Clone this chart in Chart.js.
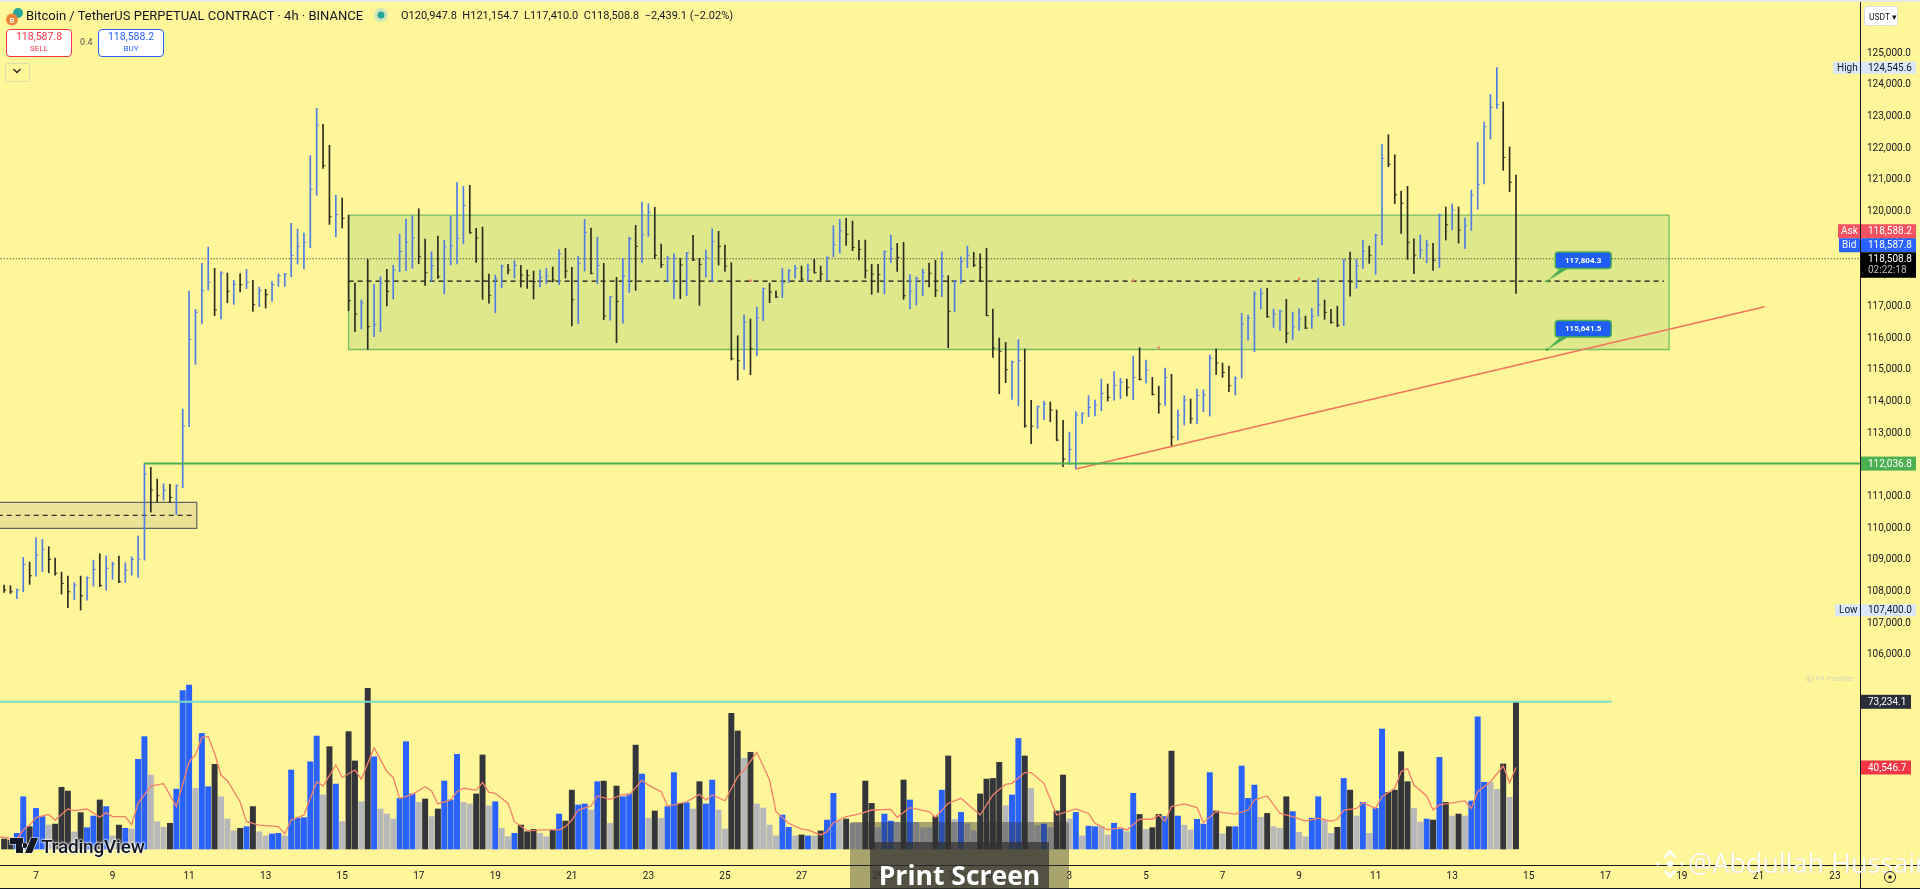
<!DOCTYPE html>
<html>
<head>
<meta charset="utf-8">
<title>BTCUSDT 4h</title>
<script src="https://cdn.jsdelivr.net/npm/chart.js@4/dist/chart.umd.js"></script>
<style>
    html, body { margin: 0; padding: 0; background: #fff599; overflow: hidden; }
    #wrap { position: relative; width: 1920px; height: 889px; font-family: Roboto, sans-serif; color: #131722; }
    #wrap > div, #wrap > svg { position: absolute; white-space: nowrap; }
    canvas { display: block; }
    .trade { width: 64px; height: 26px; background: #fff; border-radius: 4px; text-align: center; font-size: 10.5px; line-height: 13px; padding-top: 0; }
    .trade span { display: block; font-size: 8px; line-height: 11px; }
</style>
</head>
<body>
<div id="wrap">
    <canvas id="chart" width="1920" height="889"></canvas>

    <div style="left:0;top:0;width:1920px;height:2px;background:#e9e9e6"></div>
    <svg style="left:5px;top:7px" width="20" height="20">
        <circle cx="13" cy="6" r="5" fill="#26a69a"/>
        <circle cx="7" cy="12.5" r="6" fill="#e8873a"/>
        <text x="4.5" y="15.5" font-size="8" font-weight="700" fill="#fff3d8" font-family="Roboto">B</text>
    </svg>
    <div style="left:26px;top:8px;font-size:13px;line-height:16px;">Bitcoin / TetherUS PERPETUAL CONTRACT · 4h · BINANCE</div>
    <svg style="left:373px;top:7px" width="16" height="16">
        <circle cx="8" cy="8" r="7" fill="#cfe9b8"/>
        <circle cx="8" cy="8" r="3.5" fill="#26a69a"/>
    </svg>
    <div style="left:401px;top:8px;font-size:11px;line-height:16px;">O120,947.8&nbsp; H121,154.7&nbsp; L117,410.0&nbsp; C118,508.8&nbsp; −2,439.1 (−2.02%)</div>

    <div class="trade" style="left:6px;top:29px;border:1.3px solid #f23645;color:#f23645">118,587.8<span>SELL</span></div>
    <div style="left:80px;top:37px;font-size:9px;color:#555">0.4</div>
    <div class="trade" style="left:98px;top:29px;border:1.3px solid #2962ff;color:#2962ff">118,588.2<span>BUY</span></div>
    <div style="left:5px;top:63px;width:23px;height:17px;border:1px solid #e0dcae;border-radius:2px"></div>
    <svg style="left:12px;top:67px" width="10" height="8"><path d="M1.5 2 L5 5.5 L8.5 2" fill="none" stroke="#222" stroke-width="1.3"/></svg>

    <div style="left:1864px;top:6px;width:34px;height:20px;background:#fff;border:1px solid #ddd;border-radius:3px;font-size:8.5px;line-height:20px;padding-left:4px;box-sizing:border-box">USDT ▾</div>

    <div style="left:1806px;top:674px;font-size:7.5px;color:#c9c9b4">Ⓒ <span style="color:#d5d5bd">P4 Provider</span></div>

    <svg style="left:9px;top:836px" width="30" height="20">
        <path d="M1 2 H14 V17 H7 V8 H1 Z M16 17 L22 2 H29 L23 17 Z M15.5 6.5 a2.8 2.8 0 1 0 .01 0 Z" fill="#131722" stroke="#fff" stroke-width="1.2" paint-order="stroke"/>
    </svg>
    <div style="left:41px;top:835px;font-size:19px;line-height:24px;font-weight:500;letter-spacing:-0.2px;text-shadow:0 0 2px #fff,0 0 2px #fff,0 0 3px #fff">TradingView</div>

    <div style="left:850px;top:822px;width:219px;height:67px;background:rgba(50,50,50,0.42);border-radius:3px 3px 0 0"></div>
    <div style="left:870px;top:842px;width:179px;height:47px;background:rgba(50,50,50,0.72);text-align:center;color:#fff;font-family:'Open Sans',sans-serif;font-weight:700;font-size:26.5px;line-height:66px">Print Screen</div>

    <svg style="left:1656px;top:850px" width="28" height="28" opacity="0.95">
        <g fill="#fff" transform="rotate(45 14 14)">
            <rect x="11" y="11" width="6" height="6"/><rect x="4" y="4" width="9" height="3"/><rect x="4" y="4" width="3" height="9"/>
            <rect x="15" y="21" width="9" height="3"/><rect x="21" y="15" width="3" height="9"/>
            <rect x="4" y="21" width="3" height="3"/><rect x="21" y="4" width="3" height="3"/>
        </g>
    </svg>
    <div style="left:1688px;top:845px;font-family:'Open Sans',sans-serif;font-size:27px;line-height:36px;color:#fff;text-shadow:0 0 1px rgba(120,110,60,0.35)">@Abdullah Hussain</div>

    <svg style="left:1882px;top:869px" width="16" height="16"><circle cx="8" cy="8" r="5.5" fill="none" stroke="#222" stroke-width="1"/><circle cx="8" cy="8" r="1.8" fill="#222"/></svg>
</div>

<script>
// Bars run every 4h, bar 0 is the candle on the "7" label
const firstBar = -5;

const highs = [
    108198,108177,108072,109073,108925,109694,109641,109410,109051,108609,
    108483,108272,108483,108462,108988,109188,109125,108925,109115,108904,
    109094,109747,112043,111916,111548,111400,111379,111358,113760,117488,
    116909,118363,118879,118205,118100,118057,117826,118036,118173,117826,
    117615,117541,117784,118026,118047,119627,119448,119321,121765,123261,
    122755,122092,120512,120427,119890,117741,117204,118489,117699,117942,
    118173,118300,119290,119764,119869,120090,119132,118731,119227,119090,
    119869,120922,120796,120828,119469,119511,118026,117994,118310,118331,
    118447,118300,118152,118121,118152,118205,118247,118795,118837,118236,
    118584,119753,119479,119195,118363,117310,117920,118521,119195,119564,
    120301,120248,120132,118974,118584,118668,118521,118710,119248,118521,
    118784,119458,119374,118942,118384,116077,116730,116604,116983,117583,
    117741,117499,118205,118173,118300,118278,118342,118489,118278,118573,
    119553,119753,119785,119700,119089,119100,118331,118331,118752,119258,
    118995,119026,118005,117931,118184,118373,118458,118731,117973,117815,
    118573,118910,118710,118668,118837,116920,116003,115866,115277,115951,
    115656,114034,113855,114002,113981,113728,113402,113033,113676,113644,
    114181,114044,114708,114550,114940,114729,114708,115435,115698,115308,
    114760,114486,115055,114856,113737,114180,114076,114392,114369,115466,
    115656,115213,115118,114780,116784,116739,117466,117561,117574,116920,
    116888,117226,116825,116929,116698,116942,117890,117204,116910,117014,
    118490,118721,118490,119091,118910,119280,122124,122427,121795,120648,
    120797,119141,119258,119091,118996,119922,120143,120238,120143,119805,
    120680,122187,122829,123704,124545.6,123461,122039,121154.7
];
const lows = [
    107967,107935,107767,107987,108219,108483,108620,108588,108514,107914,
    107482,107735,107408,107724,108167,108146,108040,108377,108272,108283,
    108514,108441,108988,110505,110810,110874,110800,110431,111274,113201,
    115171,116446,117520,116709,116604,117120,117067,117457,117562,116846,
    116994,116951,117162,117636,117636,117942,118342,118184,118858,120512,
    121365,119595,119205,119479,116867,116204,116288,115645,116046,116204,
    117015,117236,118100,118131,118205,118352,117668,117784,117889,117404,
    118310,118342,118984,119311,118394,117225,117109,116804,117594,118026,
    117899,117615,117573,117236,117615,117720,117773,117689,117899,116383,
    116456,118121,118026,117720,116583,116572,115856,116477,117446,117510,
    118384,119216,118510,118226,117783,117246,117246,117341,118447,117036,
    117931,117783,118310,118110,115308,114676,115013,114845,115435,116551,
    117120,117278,117278,117762,117899,117836,117783,118057,117836,117836,
    118573,118689,118932,118763,118468,117899,117383,117446,117394,118384,
    118110,117225,116920,117046,117341,117615,117309,117309,115698,116835,
    117731,118226,118257,117794,116709,115392,114244,114592,114065,113865,
    113180,112664,113149,113423,113360,112759,111938,112011,111864,113307,
    113518,113539,113707,114013,114044,114086,114171,114055,114676,114581,
    114202,113624,113876,112568,112780,113254,113308,113295,113674,113538,
    114856,114761,114306,114202,114739,115940,115570,116920,116657,116341,
    116247,115855,115962,116247,116297,116310,116698,116594,116468,116360,
    116392,117330,117574,118206,118364,118016,118942,121416,120247,119312,
    118490,118035,118522,118383,118143,118225,119100,119416,119005,118825,
    119407,120070,120870,122292,123249,121303,120626,117410
];
const closes = [
    108040,107987,108040,108851,108493,109146,109325,109009,108577,108251,
    107987,108198,107861,108430,108693,108188,108725,108862,108304,108672,
    109009,109020,111706,111200,111021,111200,110968,111348,113223,115961,
    116814,117499,117762,116888,118057,117478,117699,117689,117762,117057,
    117499,117373,117689,117973,118026,118616,118900,119026,120701,122734,
    121449,119837,119901,119785,117183,116762,117120,116362,116425,117741,
    117478,118152,118742,119026,119163,118584,118068,118289,117942,118879,
    118921,119153,120196,119332,119163,117826,117352,117868,118278,118152,
    118300,117994,117973,117783,117920,117973,117836,118668,118121,117215,
    118363,119342,118047,118300,116699,117310,117162,117952,119142,118900,
    119269,119974,118616,118321,118521,118530,118310,118700,118468,118331,
    118542,119058,118900,118278,115350,115287,116498,115666,116635,117573,
    117457,117299,117741,118131,118205,117868,118152,118068,118026,118552,
    118953,119395,119279,118868,118805,118131,118026,118010,118742,118826,
    118552,117341,117489,117889,118078,118050,117510,117952,116846,117794,
    118426,118616,118310,118236,116709,115687,115582,115003,115245,115287,
    113233,113220,113834,113918,113728,112780,112180,112485,113570,113623,
    113812,113886,114255,114128,114508,114602,114444,114760,114697,114992,
    114223,113918,114760,112875,113570,114044,113453,114190,114210,115362,
    115213,114919,114496,114730,116446,116635,117394,117410,116676,116762,
    116834,116152,116360,116613,116319,116689,117046,116815,116499,116405,
    118468,117773,118288,118743,118617,119249,121682,121492,120531,120260,
    119027,118626,118784,118933,118459,119890,119583,120048,119416,119552,
    120522,120860,122680,123293,123375,121713,120923,118508.8
];
const volumes = [
    4970,4500,7800,26000,11100,20200,16100,11900,12400,30700,
    28800,8500,18100,10600,16400,24400,21100,6500,11900,10300,
    9900,44600,55900,36800,13600,10800,12800,29800,78800,81600,
    30200,57500,31000,42100,26000,14900,9000,10300,11100,21100,
    8600,6500,7500,7800,6500,39300,15300,15600,43400,56200,
    26900,50900,32300,13600,58400,43800,23500,79900,45900,19900,
    17400,14900,25200,53400,27400,23200,24900,16100,19900,33800,
    24400,47100,23200,22400,27400,46800,21400,23500,10300,6100,
    7800,11900,8600,9800,7800,6100,9500,17400,13900,29300,
    21900,22400,19400,33500,33800,12800,31300,26000,27400,51700,
    37300,15300,18900,15300,21100,38000,22700,23000,19900,33500,
    22400,34300,19400,9900,67500,58700,45100,48100,22400,20400,
    11900,6500,16900,10800,6500,7000,6500,6500,9000,14400,
    27700,14100,14900,12800,12800,33800,22700,10600,17400,13900,
    13300,34300,24400,13300,10600,10600,16100,29300,46300,14800,
    18200,12600,9000,27400,34800,35100,43100,21600,26900,55000,
    46300,30200,11600,12400,10600,18900,36800,14900,18200,6500,
    11400,11100,11100,7000,12800,9900,8600,27700,17200,9800,
    10600,17200,16100,48700,16400,11900,9500,14800,12400,38000,
    18900,7500,11100,11100,41300,25200,31800,15800,17700,11100,
    10300,26000,18600,8300,6100,15300,26000,14100,7800,10800,
    35100,29300,16400,23200,7800,20200,59700,28200,29300,48400,
    33500,20200,13400,14900,14400,45600,23200,16400,17400,16400,
    23900,65800,33200,33200,29700,42300,25700,73234.1
];
// b = up, k = down, g = quiet
const volumeKinds = [
    'k','k','b','b','k','b','b','g','k','k',
    'k','g','k','b','b','k','b','g','k','b',
    'g','b','b','g','g','g','k','b','b','b',
    'g','b','b','k','g','g','g','k','b','k',
    'g','g','b','b','g','b','b','b','b','b',
    'g','k','b','g','k','k','g','k','b','g',
    'g','g','b','b','b','g','k','g','k','b',
    'b','b','g','g','k','k','g','b','g','g',
    'b','k','k','k','g','g','k','b','k','k',
    'b','b','g','b','k','g','k','b','b','k',
    'b','g','k','g','b','b','k','b','g','k',
    'b','b','g','g','k','k','g','k','g','g',
    'g','g','b','b','g','k','b','g','k','b',
    'b','g','k','g','g','k','k','g','b','b',
    'g','k','b','g','g','g','k','b','k','g',
    'b','g','g','k','k','k','k','g','b','b',
    'k','g','g','b','g','k','k','g','b','g',
    'b','b','g','g','b','b','g','b','k','g',
    'k','k','b','k','b','g','g','b','b','b',
    'k','g','k','b','b','b','b','g','k','g',
    'g','k','b','g','g','b','b','g','g','k',
    'b','k','g','b','g','b','b','k','k','k',
    'k','g','g','b','k','b','k','g','k','g',
    'b','b','b','g','g','k','g','k'
];

// Volume moving average, vertices
const maBars = [-6,-3,-2,-1,0,2,3,5,6,8,10,11,12,14,15,16,18,20,22,24,25,26,27,28,29,30,32,33,35,38,39,40,42,44,45,47,48,50,51,53,55,56,57,59,61,62,63,65,66,67,69,70,71,72,74,75,77,80,82,83,84,85,87,88,90,92,93,95,96,98,99,100,102,104,105,106,108,110,111,113,115,116,118,120,121,123,124,125,127,129,131,134,135,137,140,141,143,145,148,150,152,153,155,156,158,160,163,165,166,168,170,171,173,175,176,177,178,180,182,183,185,188,190,191,193,195,197,199,201,203,204,205,207,208,210,211,213,214,215,216,218,219,220,224,225,226,228,230,231,232];
const maValues = [6130,4970,9450,11900,15600,17200,14400,19900,19100,19900,15800,18100,16100,16100,12100,22700,31300,32500,21100,43400,46800,55500,55900,47600,36800,34000,23500,13600,11900,11100,7500,14400,16900,33500,31300,41800,35600,39300,34800,50400,38500,35600,25200,27200,31000,29000,22400,24400,28500,30200,29300,33000,28200,27700,22700,13600,9100,9500,9500,11100,14400,19400,21400,26400,24700,27200,26900,34300,31800,28500,21400,21900,23500,27200,24400,26900,24000,36000,39300,48100,34300,18600,12800,9900,9500,7000,8600,13100,16100,17400,19400,19700,15800,20600,18600,15800,22700,25200,16900,26900,32200,32700,38000,38000,32700,16900,19900,17700,12800,9500,10600,9500,14900,14800,16900,13900,21100,22400,20600,13100,18600,17400,19400,24400,26400,17700,16100,13900,15300,13900,14800,19400,20200,23000,20200,26000,30200,38500,40100,31800,26400,19400,21900,23900,20200,28500,33500,41300,33000,40546.7];

const priceTicks = [125000,124000,123000,122000,121000,120000,119000,118000,117000,116000,115000,114000,113000,112000,111000,110000,109000,108000,107000,106000];
const volumeTicks = [80000,60000,40000,20000,0];
const dateTickBars = [0,12,24,36,48,60,72,84,96,108,120,132,144,150,162,174,186,198,210,222,234,246,258,270,282];
const dateTickLabels = ['7','9','11','13','15','17','19','21','23','25','27','29','31','Aug','3','5','7','9','11','13','15','17','19','21','23'];

const highValue = 124545.6, lowValue = 107400.0;
const askValue = 118588.2, bidValue = 118587.8, lastValue = 118508.8;
const supportLevel = 112036.8;
const zoneTop = 119890, zoneMid = 117804.3, zoneBottom = 115641.5;
const zoneBars = [49, 256];
const oldZoneTop = 110812, oldZoneMid = 110400, oldZoneBottom = 109990;
const oldZoneBars = [-6, 25.2];
const trendBars = [163, 271];
const trendValues = [111864, 116993];
const supportStartBar = 17;
const volumeLevel = 73234.1, volumeLevelEndBar = 247, volumeMa = 40546.7;
const dotBars = [112, 172, 176, 198];
const dotValues = [117820, 117820, 115697, 117877];

const BLUE = '#2962ff';
const UP_BAR = '#4f7de6';
const DOWN_BAR = '#2b2b20';
const bars = highs.map((_, k) => k + firstBar);
const isUp = k => k > 0 && closes[k] >= closes[k - 1];
const fmt = v => v.toLocaleString('en-US', { minimumFractionDigits: 1, maximumFractionDigits: 1 });
const hline = (a, b, v) => [{ x: a, y: v }, { x: b, y: v }];
const VOL_COLORS = { b: BLUE, k: '#33353a', g: '#b7b8ba' };

function lineSet(data, opts) {
    return Object.assign({ type: 'line', data, yAxisID: 'y', pointRadius: 0, fill: false, tension: 0, order: 5 }, opts);
}

function box(a, b, top, bottom) {
    return [{ x: a, y: top }, { x: b, y: top }, { x: b, y: bottom }, { x: a, y: bottom }, { x: a, y: top }];
}

function noPadding(scale) {
    scale.paddingTop = 0;
    scale.paddingBottom = 0;
    scale.paddingLeft = 0;
    scale.paddingRight = 0;
}

function fixWidth(width) {
    return scale => {
        scale.width = width;
        noPadding(scale);
    };
}

function tag(ctx, x, y, w, h, bg, fg, text, inset) {
    ctx.fillStyle = bg;
    ctx.fillRect(x, y, w, h);
    ctx.fillStyle = fg;
    ctx.textBaseline = 'middle';
    ctx.textAlign = 'left';
    ctx.fillText(text, x + inset, y + h / 2 + 0.5);
}

function callout(ctx, ax, ay, text) {
    const left = ax + 8, top = ay - 29, w = 56, h = 16.5;
    ctx.fillStyle = '#4caf50';
    ctx.beginPath();
    ctx.moveTo(ax, ay);
    ctx.lineTo(left + 5, top + h);
    ctx.lineTo(left + 13, top + h);
    ctx.closePath();
    ctx.fill();
    ctx.beginPath();
    ctx.arc(ax, ay, 1.5, 0, Math.PI * 2);
    ctx.fill();
    ctx.beginPath();
    ctx.roundRect(left, top, w, h, 3);
    ctx.fillStyle = '#1f5ef2';
    ctx.fill();
    ctx.lineWidth = 1.5;
    ctx.strokeStyle = '#4caf50';
    ctx.stroke();
    ctx.fillStyle = '#fff';
    ctx.font = '700 8px Roboto';
    ctx.textAlign = 'center';
    ctx.textBaseline = 'middle';
    ctx.fillText(text, left + w / 2, top + h / 2 + 0.5);
}

const paneFrame = {
    id: 'paneFrame',
    beforeDraw(chart) {
        const { ctx, width, height } = chart;
        ctx.fillStyle = '#fff599';
        ctx.fillRect(0, 0, width, height);
    },
    afterDraw(chart) {
        const { ctx, chartArea, scales } = chart;
        const xp = chartArea.right;
        ctx.save();
        ctx.strokeStyle = '#131722';
        ctx.lineWidth = 1;
        ctx.beginPath();
        ctx.moveTo(xp + 0.5, 0);
        ctx.lineTo(xp + 0.5, 889);
        ctx.moveTo(0, chartArea.bottom + 0.5);
        ctx.lineTo(1920, chartArea.bottom + 0.5);
        ctx.moveTo(0, 888.5);
        ctx.lineTo(1920, 888.5);
        ctx.stroke();

        const y = scales.y, v = scales.yVol;
        ctx.font = '10px Roboto';
        const lastY = y.getPixelForValue(lastValue);

        // price side tags
        tag(ctx, xp + 1, y.getPixelForValue(highValue) - 6, 55, 12, '#dbe8fb', '#131722', fmt(highValue), 7);
        tag(ctx, xp - 27, y.getPixelForValue(highValue) - 6, 27, 12, '#dbe8fb', '#131722', 'High', 4);
        tag(ctx, xp + 1, y.getPixelForValue(lowValue) - 6, 55, 12, '#dbe8fb', '#131722', fmt(lowValue), 7);
        tag(ctx, xp - 25, y.getPixelForValue(lowValue) - 6, 25, 12, '#dbe8fb', '#131722', 'Low', 4);
        tag(ctx, xp + 1, lastY - 34.5, 55, 14, '#f7525f', '#fff', fmt(askValue), 7);
        tag(ctx, xp - 22, lastY - 34.5, 22, 14, '#f7525f', '#fff', 'Ask', 3);
        tag(ctx, xp + 1, lastY - 20.5, 55, 14, BLUE, '#fff', fmt(bidValue), 7);
        tag(ctx, xp - 21, lastY - 20.5, 21, 14, BLUE, '#fff', 'Bid', 3);
        tag(ctx, xp + 1, lastY - 6.5, 55, 25.5, '#000', '#000', '', 7);
        ctx.fillStyle = '#fff';
        ctx.fillText(fmt(lastValue), xp + 8, lastY + 0.5);
        ctx.fillStyle = '#bbb';
        ctx.fillText('02:22:18', xp + 8, lastY + 12);
        tag(ctx, xp + 1, y.getPixelForValue(supportLevel) - 7, 55, 14, '#4caf50', '#fff', fmt(supportLevel), 7);

        // volume side tags
        tag(ctx, xp + 1, v.getPixelForValue(volumeLevel) - 7, 50, 14, '#2a2e39', '#fff', fmt(volumeLevel), 7);
        tag(ctx, xp + 1, v.getPixelForValue(volumeMa) - 7, 50, 14, '#f23645', '#fff', fmt(volumeMa), 7);

        const anchor = chart.scales.x.getPixelForValue(236.9);
        callout(ctx, anchor, y.getPixelForValue(zoneMid), fmt(zoneMid));
        callout(ctx, anchor, y.getPixelForValue(zoneBottom), fmt(zoneBottom));
        ctx.restore();
    }
};

new Chart(document.getElementById('chart'), {
    type: 'bar',
    data: {
        datasets: [
            lineSet(box(zoneBars[0], zoneBars[1], zoneTop, zoneBottom), {
                borderColor: 'rgba(76,175,80,0.72)', backgroundColor: 'rgba(76,175,80,0.18)', borderWidth: 1.3, fill: 'shape', order: 9
            }),
            lineSet(box(oldZoneBars[0], oldZoneBars[1], oldZoneTop, oldZoneBottom), {
                borderColor: '#63666b', backgroundColor: 'rgba(120,123,134,0.15)', borderWidth: 1.2, fill: 'shape', order: 9
            }),
            {
                type: 'bar',
                data: bars.map((b, k) => ({ x: b, y: volumes[k] })),
                yAxisID: 'yVol',
                grouped: false,
                barThickness: 5.3,
                backgroundColor: volumeKinds.map(kind => VOL_COLORS[kind]),
                order: 8
            },
            lineSet(hline(-6, volumeLevelEndBar, volumeLevel), { yAxisID: 'yVol', borderColor: '#7fdcc4', borderWidth: 2, order: 7 }),
            lineSet(maBars.map((b, k) => ({ x: b, y: maValues[k] })), { yAxisID: 'yVol', borderColor: '#f4806a', borderWidth: 1.3, order: 6 }),
            lineSet(hline(-6, 286, lastValue), { borderColor: '#222', borderWidth: 1, borderDash: [1, 2], order: 7 }),
            lineSet(hline(zoneBars[0], 255.2, zoneMid), { borderColor: '#111', borderWidth: 1.2, borderDash: [5, 4], order: 7 }),
            lineSet(hline(oldZoneBars[0], 24.6, oldZoneMid), { borderColor: '#333', borderWidth: 1.1, borderDash: [5, 4], order: 7 }),
            {
                type: 'bar',
                data: bars.map((b, k) => ({ x: b, y: [lows[k], highs[k]] })),
                yAxisID: 'y',
                grouped: false,
                barThickness: 1,
                backgroundColor: bars.map((b, k) => isUp(k) ? UP_BAR : DOWN_BAR),
                order: 4
            },
            lineSet(bars.map((b, k) => ({ x: b, y: closes[k] })), {
                showLine: false,
                pointStyle: 'dash',
                pointRadius: 2.4,
                pointBorderWidth: 0.9,
                pointBorderColor: bars.map((b, k) => isUp(k) ? UP_BAR : DOWN_BAR),
                order: 3
            }),
            lineSet(hline(supportStartBar, 286, supportLevel), { borderColor: '#4caf50', borderWidth: 2, order: 2 }),
            lineSet(trendBars.map((b, k) => ({ x: b, y: trendValues[k] })), { borderColor: '#f4735c', borderWidth: 1.4, order: 2 }),
            lineSet(dotBars.map((b, k) => ({ x: b, y: dotValues[k] })), {
                showLine: false, pointRadius: 1.3, pointBackgroundColor: '#f4735c', pointBorderWidth: 0, order: 2
            })
        ]
    },
    options: {
        responsive: false,
        devicePixelRatio: 1,
        animation: false,
        layout: { padding: 0, autoPadding: false },
        plugins: { legend: { display: false }, tooltip: { enabled: false } },
        scales: {
            x: {
                type: 'linear',
                offset: false,
                min: -5.643,
                max: 285.93,
                grid: { display: false, drawTicks: false },
                border: { display: false },
                afterBuildTicks: scale => { scale.ticks = dateTickBars.map(value => ({ value })); },
                afterFit: scale => { scale.height = 24; noPadding(scale); },
                ticks: {
                    autoSkip: false,
                    maxRotation: 0,
                    padding: 5,
                    color: '#131722',
                    font: { family: 'Roboto', size: 10 },
                    callback: value => dateTickLabels[dateTickBars.indexOf(value)]
                }
            },
            yVol: {
                position: 'right',
                weight: -1,
                min: -7960,
                max: 422388,
                grid: { display: false, drawTicks: false },
                border: { display: false },
                afterBuildTicks: scale => { scale.ticks = volumeTicks.map(value => ({ value })); },
                afterFit: fixWidth(0),
                ticks: {
                    autoSkip: false,
                    padding: 7,
                    color: '#131722',
                    font: { family: 'Roboto', size: 10 },
                    callback: fmt
                }
            },
            y: {
                position: 'right',
                weight: 0,
                min: 99354,
                max: 126684,
                grid: { display: false, drawTicks: false },
                border: { display: false },
                afterBuildTicks: scale => { scale.ticks = priceTicks.map(value => ({ value })); },
                afterFit: fixWidth(60),
                ticks: {
                    autoSkip: false,
                    padding: 7,
                    color: '#131722',
                    font: { family: 'Roboto', size: 10 },
                    callback: fmt
                }
            }
        }
    },
    plugins: [paneFrame]
});
</script>
</body>
</html>
